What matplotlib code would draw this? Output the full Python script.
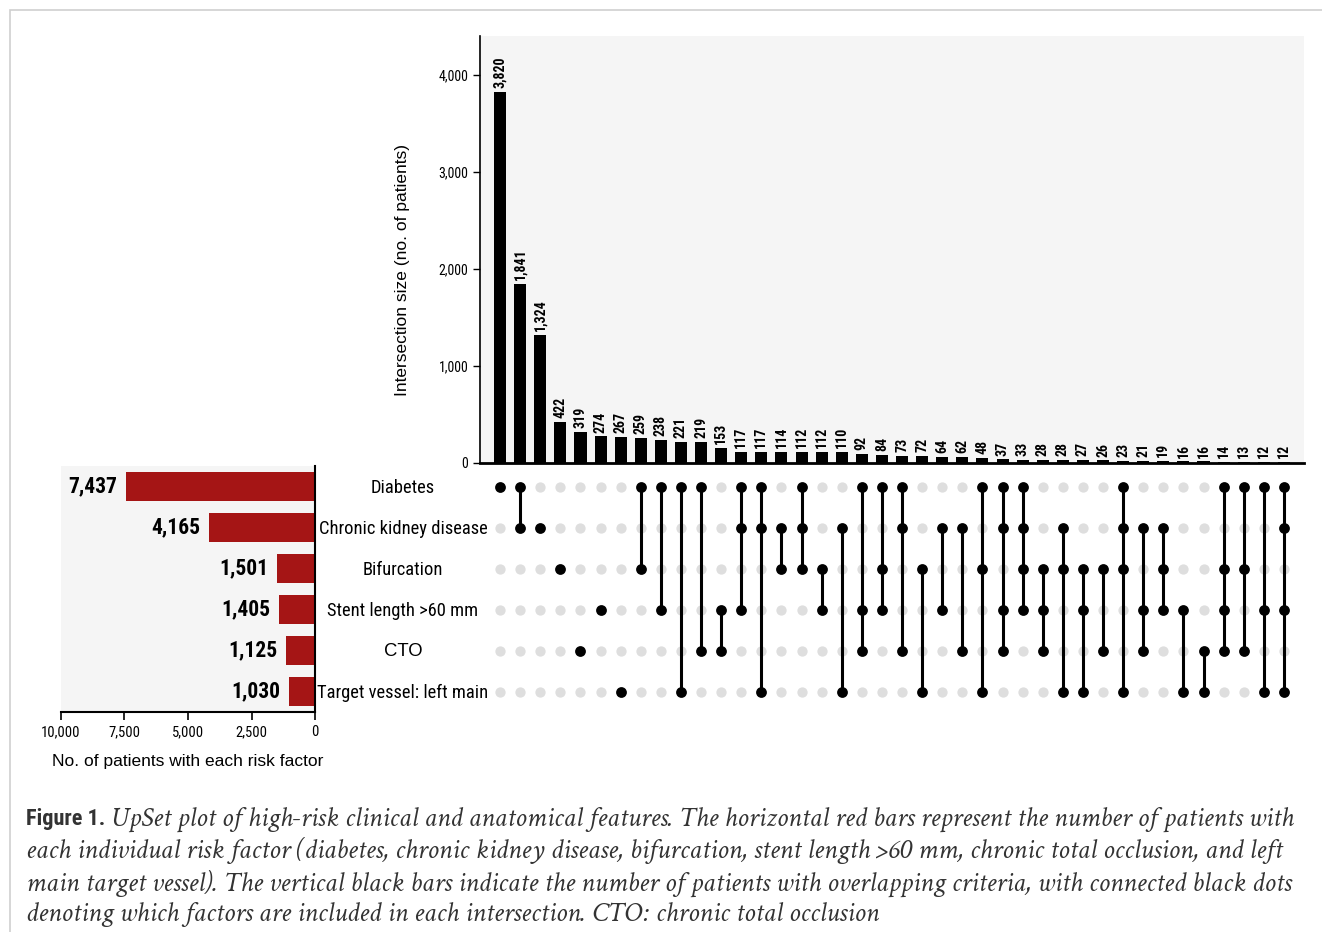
import matplotlib
matplotlib.use("Agg")
import matplotlib.pyplot as plt
import matplotlib.transforms as mtransforms
from matplotlib.patches import Rectangle
from matplotlib import font_manager

fatores = ["Diabetes", "Chronic kidney disease", "Bifurcation",
           "Stent length >60 mm", "CTO", "Target vessel: left main"]
total_fator = [7437, 4165, 1501, 1405, 1125, 1030]

tamanhos = [3820, 1841, 1324, 422, 319, 274, 267, 259, 238, 221,
            219, 153, 117, 117, 114, 112, 112, 110, 92, 84,
            73, 72, 64, 62, 48, 37, 33, 28, 28, 27,
            26, 23, 21, 19, 16, 16, 14, 13, 12, 12]

# indices dos fatores em cada intersecao (0=Diabetes ... 5=left main)
combinacoes = [
    [0], [0, 1], [1], [2], [4], [3], [5], [0, 2], [0, 3], [0, 5],
    [0, 4], [3, 4], [0, 1, 3], [0, 1, 5], [1, 2], [0, 1, 2], [2, 3], [1, 5], [0, 3, 4], [0, 2, 3],
    [0, 1, 4], [2, 5], [1, 3], [1, 4], [0, 2, 5], [0, 1, 3, 4], [0, 1, 2, 3], [2, 3, 4], [1, 2, 5], [2, 3, 5],
    [2, 4], [0, 1, 2, 5], [1, 3, 4], [1, 2, 3], [3, 5], [4, 5], [0, 2, 3, 4], [0, 2, 4], [0, 3, 5], [0, 1, 3, 5],
]


def escolher_fonte(candidatas, precisa_bold=False, precisa_italico=False):
    fontes = font_manager.fontManager.ttflist
    for nome in candidatas:
        estilos = [f for f in fontes if f.name == nome]
        if not estilos:
            continue
        if precisa_bold and not any(f.weight >= 600 for f in estilos):
            continue
        if precisa_italico and not any(f.style == "italic" for f in estilos):
            continue
        return [nome, "DejaVu Sans"]
    return ["DejaVu Sans"]


NARROW = escolher_fonte(["Roboto Condensed", "Liberation Sans Narrow", "Archivo Narrow", "PT Sans Narrow",
                         "Barlow Condensed", "Sofia Sans Condensed", "Open Sans Condensed",
                         "Fira Sans Condensed", "IBM Plex Sans Condensed", "Oswald"], precisa_bold=True)
SANS = ["Liberation Sans", "DejaVu Sans"]
SERIF = escolher_fonte(["Crimson Text", "Crimson Pro", "EB Garamond", "Cormorant Garamond",
                        "Source Serif 4", "Liberation Serif"], precisa_italico=True)

FUNDO = "#f5f5f5"
VERMELHO = "#a51515"

W, H = 1322, 932
fig = plt.figure(figsize=(W / 100, H / 100), dpi=100)
fig.patch.set_facecolor("white")


def caixa(x0, y0, x1, y1):
    return [x0 / W, 1 - y1 / H, (x1 - x0) / W, (y1 - y0) / H]


fig.patches.append(Rectangle((10 / W, -0.01), 1.02, 1 - 10 / H + 0.01, transform=fig.transFigure,
                             fill=False, edgecolor="#cfcfcf", linewidth=1.2))

n = len(tamanhos)
xs = list(range(n))

# barras de intersecao
ax_top = fig.add_axes(caixa(480, 36, 1304, 463))
ax_top.set_facecolor(FUNDO)
ax_top.bar(xs, tamanhos, width=0.6, color="black")
ax_top.set_xlim(-1, n)
ax_top.set_ylim(0, 4400)
ax_top.set_xticks([])
ax_top.set_yticks([0, 1000, 2000, 3000, 4000])
ax_top.set_yticklabels(["0", "1,000", "2,000", "3,000", "4,000"], family=NARROW, fontsize=10)
ax_top.tick_params(axis="y", length=5, width=1)
for lado in ["top", "right"]:
    ax_top.spines[lado].set_visible(False)
ax_top.spines["bottom"].set_linewidth(2)
ax_top.spines["left"].set_linewidth(1.2)
ax_top.set_ylabel("Intersection size (no. of patients)", family=SANS, fontsize=12.5)
ax_top.yaxis.set_label_coords(-0.085, 0.452)
for x, v in zip(xs, tamanhos):
    ax_top.text(x, v + 40, f"{v:,}", rotation=90, ha="center", va="bottom",
                family=NARROW, fontweight="bold", fontsize=10)

# matriz
ax_mat = fig.add_axes(caixa(480, 466, 1304, 712))
ax_mat.set_xlim(-1, n)
ax_mat.set_ylim(len(fatores) - 0.5, -0.5)
ax_mat.axis("off")
for x in xs:
    ax_mat.scatter([x] * len(fatores), range(len(fatores)), s=55, color="#dedede", zorder=1, linewidths=0)
for x, comb in zip(xs, combinacoes):
    if len(comb) > 1:
        ax_mat.plot([x, x], [min(comb), max(comb)], color="black", linewidth=2.2, zorder=2)
    ax_mat.scatter([x] * len(comb), comb, s=60, color="black", zorder=3, linewidths=0)

# barras por fator
ax_esq = fig.add_axes(caixa(61, 466, 315, 712))
ax_esq.set_facecolor(FUNDO)
ax_esq.barh(range(len(fatores)), total_fator, height=0.73, color=VERMELHO)
ax_esq.set_xlim(10000, 0)
ax_esq.set_ylim(len(fatores) - 0.5, -0.5)
ax_esq.set_yticks([])
ax_esq.set_xticks([10000, 7500, 5000, 2500, 0])
ax_esq.set_xticklabels(["10,000", "7,500", "5,000", "2,500", "0"], family=NARROW, fontsize=10.5)
ax_esq.tick_params(axis="x", length=6, width=1.2)
ax_esq.spines["top"].set_visible(False)
ax_esq.spines["left"].set_visible(False)
ax_esq.spines["bottom"].set_linewidth(1.5)
ax_esq.spines["right"].set_linewidth(1.5)
ax_esq.set_xlabel("No. of patients with each risk factor", family=SANS, fontsize=12.5, labelpad=11)
for i, v in enumerate(total_fator):
    ax_esq.text(v + 350, i, f"{v:,}", ha="right", va="center",
                family=NARROW, fontweight="bold", fontsize=15.5)

trans = mtransforms.blended_transform_factory(fig.transFigure, ax_mat.transData)
for i, nome in enumerate(fatores):
    familia = SANS if nome == "CTO" else NARROW
    ax_mat.text(403 / W, i + 0.03, nome, transform=trans, ha="center", va="center",
                family=familia, fontsize=13.3, clip_on=False)

# legenda
linhas = [
    "UpSet plot of high-risk clinical and anatomical features. The horizontal red bars represent the number of patients with",
    "each individual risk factor (diabetes, chronic kidney disease, bifurcation, stent length >60 mm, chronic total occlusion, and left",
    "main target vessel). The vertical black bars indicate the number of patients with overlapping criteria, with connected black dots",
    "denoting which factors are included in each intersection. CTO: chronic total occlusion",
]
# ajusta o tamanho para a segunda linha ocupar a largura do original
teste = fig.text(0, 0, linhas[1], family=SERIF, style="italic", fontsize=16)
fig.canvas.draw()
largura = teste.get_window_extent().width
teste.remove()
tam = 16 * (1290 - 26) / largura

y0 = 819
t = fig.text(26 / W, 1 - y0 / H, "Figure 1.", family=NARROW, fontweight="bold", fontsize=16,
             color="#333333", va="center")
fig.canvas.draw()
bb = t.get_window_extent()
fig.text(bb.x1 / W + 6 / W, 1 - y0 / H, linhas[0], family=SERIF, style="italic", fontsize=tam,
         color="#333333", va="center")
for k, linha in enumerate(linhas[1:], start=1):
    fig.text(26 / W, 1 - (y0 + 32 * k) / H, linha, family=SERIF, style="italic", fontsize=tam,
             color="#333333", va="center")

fig.savefig("out.png", dpi=100)
